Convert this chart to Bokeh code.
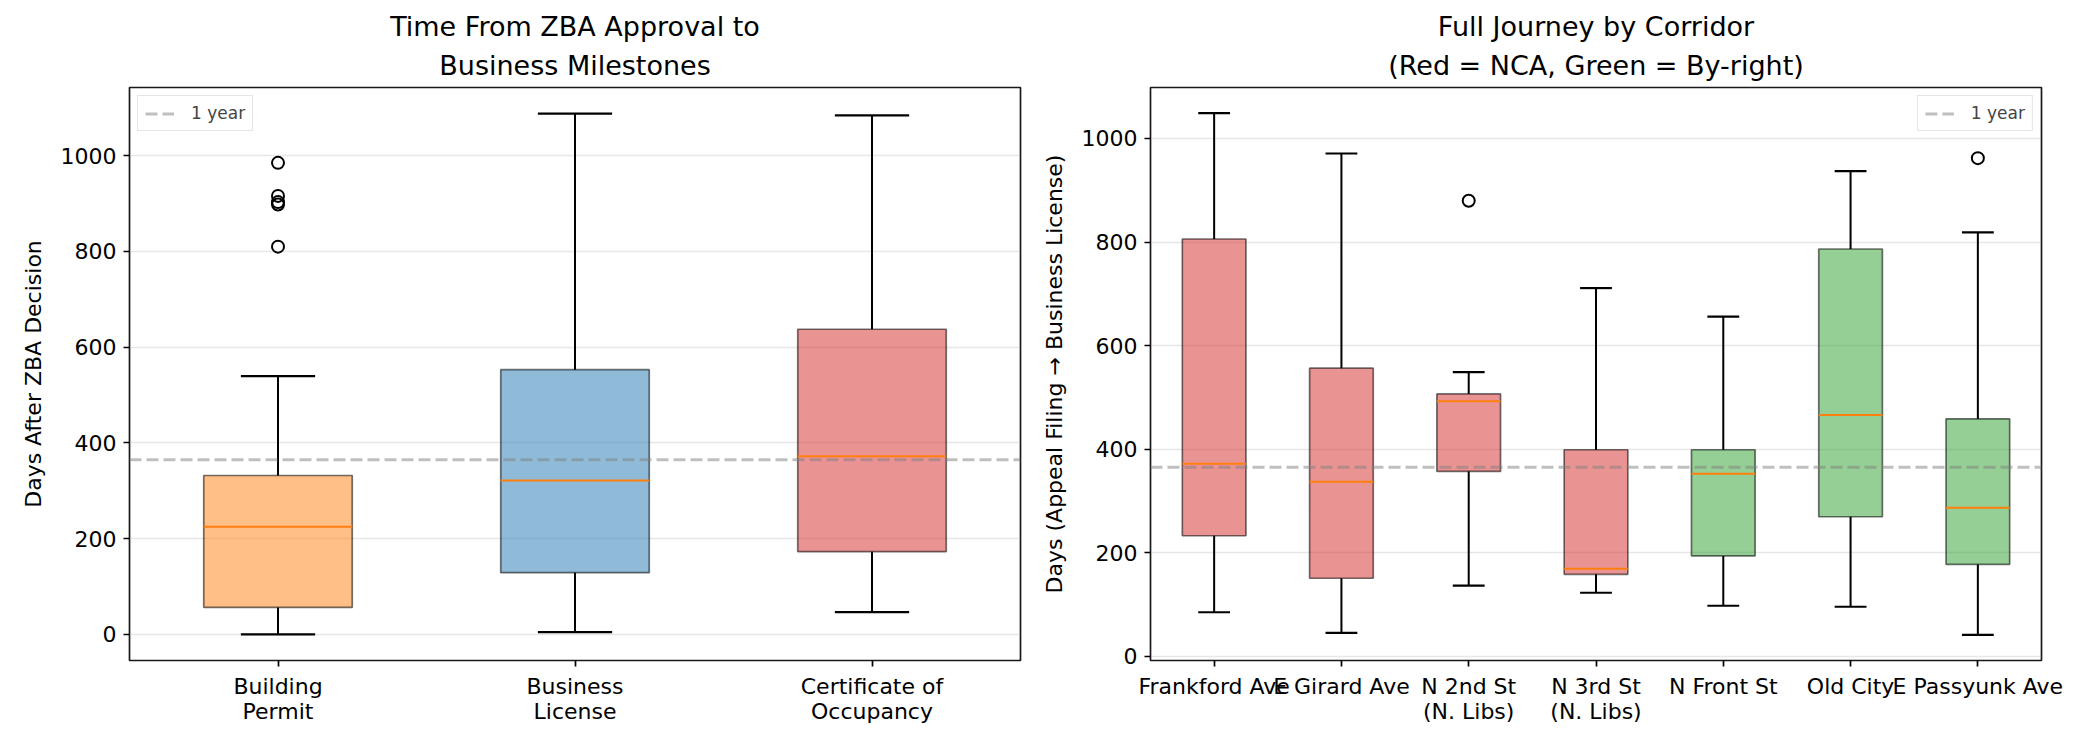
import numpy as np
from bokeh.plotting import figure
from bokeh.layouts import row
from bokeh.models import Range1d, FixedTicker, Span, Legend, LegendItem, Title
from bokeh.embed import file_html
from bokeh.resources import INLINE

# ---- Left chart data: milestones after ZBA decision (box statistics) ----
milestones = ["Building\nPermit", "Business\nLicense", "Certificate of\nOccupancy"]
ms_low = [0, 5, 46.5]
ms_q1 = [56.5, 129, 173]
ms_med = [225, 321.5, 372]
ms_q3 = [332, 553, 637.5]
ms_high = [539.5, 1088, 1084]
ms_colors = ["#ff7f0e", "#1f77b4", "#d62728"]
ms_outlier_group = [0, 0, 0, 0, 0]
ms_outliers = [985, 916, 903, 898, 810]
ms_title = ["Time From ZBA Approval to", "Business Milestones"]

# ---- Right chart data: full journey by corridor ----
corridors = ["Frankford Ave", "E Girard Ave", "N 2nd St\n(N. Libs)", "N 3rd St\n(N. Libs)",
             "N Front St", "Old City", "E Passyunk Ave"]
cor_low = [84.7, 45, 136, 122.4, 97.3, 95.3, 41]
cor_q1 = [232.5, 150.4, 356.8, 157.9, 193.6, 269.2, 177.1]
cor_med = [371.7, 336.9, 492.4, 168.8, 352.3, 466, 286.6]
cor_q3 = [805.8, 556.2, 506.6, 398.7, 398.7, 786.5, 458.4]
cor_high = [1049, 971, 548.5, 711, 656, 936.9, 818.7]
cor_type = ["NCA", "NCA", "NCA", "NCA", "By-right", "By-right", "By-right"]
cor_outlier_group = [2, 6]
cor_outliers = [879.6, 962]
cor_title = ["Full Journey by Corridor", "(Red = NCA, Green = By-right)"]

ONE_YEAR = 365
type_colors = {"NCA": "#d62728", "By-right": "#2ca02c"}

FONT = "DejaVu Sans"


def set_title(t, standoff):
    t.text_font = FONT
    t.text_font_size = "27px"
    t.text_font_style = "normal"
    t.text_color = "black"
    t.align = "center"
    t.standoff = standoff
    t.offset = 0


def style(p, title_lines, ylabel, legend_loc, legend_x):
    # the added title is stacked nearest the frame, the figure's own title above it
    p.title.text = title_lines[0]
    set_title(p.title, 0)
    lower = Title(text=title_lines[1])
    set_title(lower, 13)
    p.add_layout(lower, "above")

    p.outline_line_color = "black"
    p.outline_line_width = 1.7
    p.outline_line_alpha = 0.9
    p.xgrid.grid_line_color = None
    p.ygrid.grid_line_color = "#b0b0b0"
    p.ygrid.grid_line_alpha = 0.3
    p.ygrid.grid_line_width = 1.7
    p.yaxis.ticker = FixedTicker(ticks=[0, 200, 400, 600, 800, 1000])
    for ax in (p.xaxis[0], p.yaxis[0]):
        ax.axis_line_color = None
        ax.major_tick_out = 6
        ax.major_tick_in = 0
        ax.major_tick_line_width = 1.7
        ax.major_tick_line_color = "black"
        ax.minor_tick_line_color = None
        ax.major_label_text_font = FONT
        ax.major_label_text_font_size = "22px"
        ax.major_label_text_color = "black"
        ax.major_label_standoff = 7
        ax.axis_label_text_font = FONT
        ax.axis_label_text_font_size = "22px"
        ax.axis_label_text_font_style = "normal"
        ax.axis_label_text_color = "black"
    p.yaxis.axis_label = ylabel
    p.yaxis.axis_label_standoff = 12
    p.xaxis.major_label_orientation = "horizontal"
    p.xaxis.major_label_text_line_height = 1.0

    span = Span(location=ONE_YEAR, dimension="width", line_color="gray", line_alpha=0.5,
                line_width=3, line_dash="12 5")
    p.add_layout(span)
    # one-point line: draws nothing in the plot, only provides the legend sample
    key = p.line(x=[legend_x], y=[ONE_YEAR], line_color="gray", line_alpha=0.5,
                 line_width=3, line_dash="12 5")
    legend = Legend(items=[LegendItem(label="1 year", renderers=[key])], location=legend_loc)
    legend.label_text_font = FONT
    legend.label_text_font_size = "17px"
    legend.padding = 7
    legend.margin = 8
    legend.glyph_width = 29
    legend.glyph_height = 17
    legend.label_height = 17
    legend.label_standoff = 17
    legend.spacing = 0
    legend.border_line_color = "#cccccc"
    legend.border_line_width = 1.5
    legend.background_fill_alpha = 0.8
    p.add_layout(legend)


def draw_boxes(p, pos, low, q1, med, q3, high, colors, out_pos, out_vals):
    pos = np.asarray(pos, dtype=float)
    p.vbar(x=pos, width=0.5, bottom=q1, top=q3, fill_color=colors, fill_alpha=0.5,
           line_color="black", line_alpha=0.55, line_width=1.7)
    p.segment(x0=pos - 0.25, x1=pos + 0.25, y0=med, y1=med, line_color="#ff7f0e", line_width=2)
    p.segment(x0=pos, x1=pos, y0=q3, y1=high, line_color="black", line_width=2)
    p.segment(x0=pos, x1=pos, y0=q1, y1=low, line_color="black", line_width=2)
    p.segment(x0=pos - 0.125, x1=pos + 0.125, y0=high, y1=high, line_color="black", line_width=2.2)
    p.segment(x0=pos - 0.125, x1=pos + 0.125, y0=low, y1=low, line_color="black", line_width=2.2)
    p.scatter(x=out_pos, y=out_vals, marker="circle", size=12, fill_color=None,
              line_color="black", line_width=2)


# ---- Left figure ----
p1 = figure(width=1038, height=735, frame_width=891, frame_height=573,
            min_border_left=129, min_border_right=18, min_border_top=87, min_border_bottom=75,
            x_range=Range1d(0.5, 3.5), y_range=Range1d(-54.4, 1142.4),
            output_backend="svg", toolbar_location=None)
pos1 = list(range(1, len(milestones) + 1))
style(p1, ms_title, "Days After ZBA Decision", "top_left", pos1[0])
p1.xaxis.ticker = FixedTicker(ticks=pos1)
p1.xaxis.major_label_overrides = {i: m for i, m in zip(pos1, milestones)}
draw_boxes(p1, pos1, ms_low, ms_q1, ms_med, ms_q3, ms_high, ms_colors,
           [pos1[g] for g in ms_outlier_group], ms_outliers)

# ---- Right figure ----
p2 = figure(width=1031, height=735, frame_width=891, frame_height=573,
            min_border_left=110, min_border_right=30, min_border_top=87, min_border_bottom=75,
            x_range=Range1d(0.5, 7.5), y_range=Range1d(-8.5, 1098.5),
            output_backend="svg", toolbar_location=None)
pos2 = list(range(1, len(corridors) + 1))
style(p2, cor_title, "Days (Appeal Filing \u2192 Business License)", "top_right", pos2[0])
p2.xaxis.ticker = FixedTicker(ticks=pos2)
p2.xaxis.major_label_overrides = {i: c for i, c in zip(pos2, corridors)}
draw_boxes(p2, pos2, cor_low, cor_q1, cor_med, cor_q3, cor_high,
           [type_colors[t] for t in cor_type],
           [pos2[g] for g in cor_outlier_group], cor_outliers)

layout = row(p1, p2)
open("out.html", "w").write(file_html(layout, INLINE))
